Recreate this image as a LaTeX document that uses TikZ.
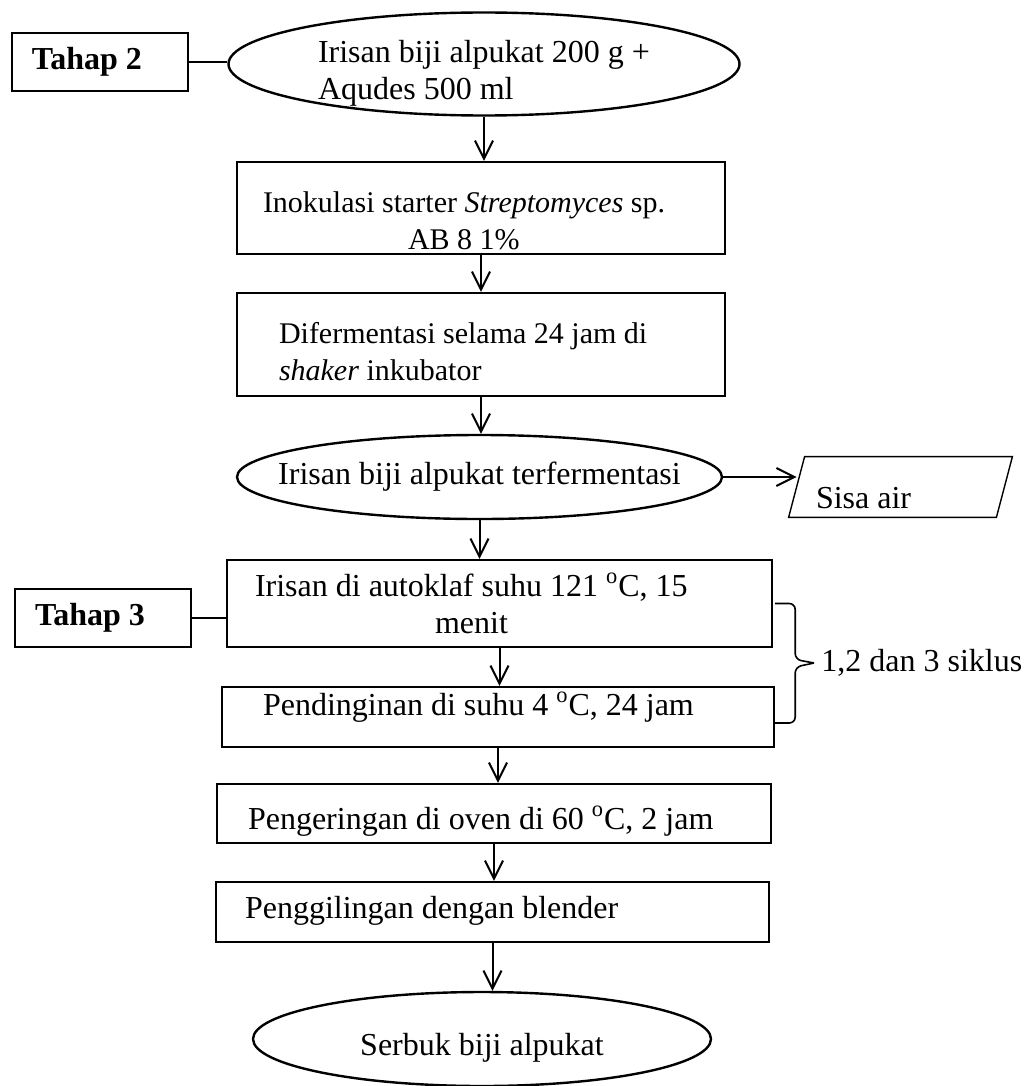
\documentclass[tikz,border=0pt]{standalone}
\usepackage{fontspec}
\setmainfont{Liberation Serif}
\usetikzlibrary{shapes.geometric,arrows.meta}

\begin{document}
\begin{tikzpicture}[
x=0.5pt, y=-0.5pt,
font=\fontsize{16}{18.5}\selectfont,
stepbox/.style={draw, line width=1.2pt, minimum height=30pt, inner ysep=0pt, align=flush left},
blob/.style={ellipse, draw, line width=1.2pt, inner sep=0pt},
tahap/.style={draw, line width=1pt, minimum height=29pt, text width=68pt, inner xsep=10pt, align=flush left, font=\fontsize{16}{18.5}\selectfont\bfseries},
arr/.style={-{Straight Barb[length=9pt,width=9pt]}, line width=1pt},
bracket/.style={line width=0.8pt, rounded corners=3pt}
]
\useasboundingbox (0,0) rectangle (1029,1086);

% stages
\node[tahap] (t2) at (100,62) {Tahap 2};
\node[tahap] (t3) at (103,618) {Tahap 3};

% process steps
\node[blob, minimum width=255.5pt, minimum height=51.5pt, text width=166pt, align=flush left, text height=16pt, text depth=17.5pt] (ell1) at (484,64) {Irisan biji alpukat 200 g +\\Aqudes 500 ml};
\node[stepbox, minimum width=244pt, minimum height=46pt, text width=218pt, inner xsep=13pt, text height=22pt, text depth=18pt, font=\fontsize{15}{18.5}\selectfont] (inok) at (481,208) {Inokulasi starter \textit{Streptomyces} sp.\\\hspace*{72.5pt}AB 8 1\%};
\node[stepbox, minimum width=244pt, minimum height=51.5pt, text width=202pt, inner xsep=21pt, text height=16pt, text depth=17.5pt, font=\fontsize{15}{18.5}\selectfont] (ferm) at (481,344.5) {Difermentasi selama 24 jam di\\\textit{shaker} inkubator};
\node[blob, minimum width=242.5pt, minimum height=42pt] (ell2) at (479.5,477) {\makebox[0pt]{Irisan biji alpukat terfermentasi}};
\node[text width=84.5pt, inner xsep=9.5pt, inner ysep=4.5pt, text height=21pt, text depth=0pt, align=flush left] (sisa) at (900.5,487) {Sisa air};
\node[stepbox, minimum width=272.5pt, minimum height=43.5pt, text width=244.5pt, inner xsep=14pt] (auto) at (499.5,603.5) {Irisan di autoklaf suhu 121 \textsuperscript{o}C, 15\\\hspace*{90pt}menit};
\node[stepbox, minimum width=276pt, minimum height=30pt, text width=235pt, inner xsep=20.5pt, text height=10pt, text depth=12pt] (dingin) at (498,717) {Pendinginan di suhu 4 \textsuperscript{o}C, 24 jam};
\node[stepbox, minimum width=277pt, minimum height=29.5pt, text width=246pt, inner xsep=15.5pt, text height=18pt, text depth=2.5pt] (oven) at (494,813.5) {Pengeringan di oven di 60 \textsuperscript{o}C, 2 jam};
\node[stepbox, minimum width=276.5pt, minimum height=30pt, text width=247.5pt, inner xsep=14.5pt, text height=12pt, text depth=6pt] (giling) at (492.5,912) {Penggilingan dengan blender};
\node[blob, minimum width=229pt, minimum height=47pt, text height=18pt, text depth=2pt] (serbuk) at (482,1039) {Serbuk biji alpukat};
\node[anchor=west, inner xsep=3.5pt] (siklus) at (814,663) {1,2 dan 3 siklus};

% waste output
\draw[line width=0.7pt] ([xshift=4pt]sisa.north west) -- ([xshift=4pt]sisa.north east) -- ([xshift=-4pt]sisa.south east) -- ([xshift=-4pt]sisa.south west) -- cycle;

% links
\draw[line width=1pt] (t2.east) -- (t2.east -| ell1.west);
\draw[line width=1pt] (t3.east) -- (t3.east -| auto.west);
\draw[arr] (ell1.south) -- (ell1.south |- inok.north);
\draw[arr] (inok.south) -- (inok.south |- ferm.north);
\draw[arr] (ferm.south) -- (ferm.south |- ell2.north);
\draw[arr] (ell2.east) -- (ell2.east -| sisa.west);
\draw[arr] (ell2.south) -- (ell2.south |- auto.north);
\draw[arr] (auto.south) -- (auto.south |- dingin.north);
\draw[arr] (dingin.south) -- (dingin.south |- oven.north);
\draw[arr] (oven.south) -- (oven.south |- giling.north);
\draw[arr] (giling.south) -- (giling.south |- serbuk.north);

% cycle bracket
\draw[bracket] (auto.east -| dingin.east) -- ++(10pt,0pt) -- ++(0pt,-28pt) -- (siklus.west);
\draw[bracket] ([yshift=-3pt]dingin.east) -- ++(10pt,0pt) -- ++(0pt,28pt) -- (siklus.west);

\end{tikzpicture}
\end{document}
